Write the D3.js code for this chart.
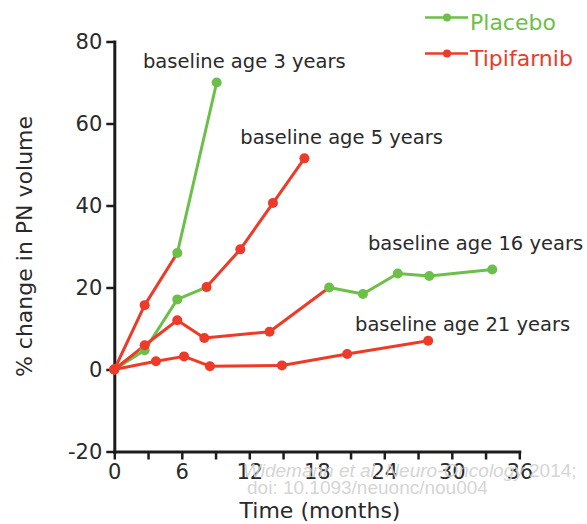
<!DOCTYPE html>
<html>
<head>
<meta charset="utf-8">
<script src="https://cdn.jsdelivr.net/npm/d3@7"></script>
<style>
  body { margin: 0; background: #fff; }
  text { font-family: "DejaVu Sans", sans-serif; }
  text.wm { font-family: "Liberation Sans", Arial, sans-serif; }
</style>
</head>
<body>
<div id="chart"></div>
<script>
// data (months, % change, arm of each visit: P = placebo, T = tipifarnib)
var months3  = [0, 2.7, 5.6, 9.1];
var values3  = [0, 15.7, 28.4, 70.0];
var arms3    = ["T", "T", "P", "P"];

var months5  = [0, 2.7, 5.6, 8.2, 11.2, 14.1, 16.9];
var values5  = [0, 4.7, 17.1, 20.1, 29.3, 40.6, 51.5];
var arms5    = ["P", "P", "P", "T", "T", "T", "T"];

var months16 = [0, 2.7, 5.6, 8.0, 13.8, 19.1, 22.1, 25.2, 28.0, 33.6];
var values16 = [0, 5.9, 12.0, 7.7, 9.2, 20.0, 18.4, 23.4, 22.8, 24.4];
var arms16   = ["T", "T", "T", "T", "T", "P", "P", "P", "P", "P"];

var months21 = [0, 3.7, 6.2, 8.5, 14.9, 20.7, 27.9];
var values21 = [0, 2.0, 3.2, 0.8, 1.0, 3.8, 7.0];
var arms21   = ["T", "T", "T", "T", "T", "T", "T"];

var seriesLabels = ["baseline age 5 years", "baseline age 3 years", "baseline age 16 years", "baseline age 21 years"];
// where each label sits, in data units (months, %)
var labelMonths = [11.2, 2.55, 22.55, 21.4];
var labelValues = [55.0, 73.5, 29.1, 9.3];

var legendNames = ["Placebo", "Tipifarnib"];
var legendArms = ["P", "T"];

var yTicks = [-20, 0, 20, 40, 60, 80];
var xTicks = [0, 3, 6, 9, 12, 15, 18, 21, 24, 27, 30, 33, 36];

var w = 587, h = 524;
var armColor = { P: "#6cbf48", T: "#ee3a28" };
var ink = "#1c1c1c";

var series = [
  { m: months5, v: values5, a: arms5 },
  { m: months3, v: values3, a: arms3 },
  { m: months16, v: values16, a: arms16 },
  { m: months21, v: values21, a: arms21 }
];

var x = d3.scaleLinear().domain([0, 36]).range([114.3, 519.3]);
var y = d3.scaleLinear().domain([-20, 80]).range([451.5, 41.5]);

var svg = d3.select("#chart").append("svg")
  .attr("width", w)
  .attr("height", h);

// axes
var yAxis = svg.append("g")
  .attr("transform", "translate(" + x(0) + ",0)")
  .call(d3.axisLeft(y).tickValues(yTicks).tickSize(8).tickSizeOuter(0).tickPadding(4)
    .tickFormat(function(d) { return String(d); }));

var xAxis = svg.append("g")
  .attr("transform", "translate(0," + y(-20) + ")")
  .call(d3.axisBottom(x).tickValues(xTicks).tickSize(8).tickSizeOuter(0).tickPadding(5)
    .tickFormat(function(d) { return d % 6 == 0 ? String(d) : ""; }));

[yAxis, xAxis].forEach(function(g) {
  g.select(".domain").attr("stroke", ink).attr("stroke-width", 3).attr("stroke-linecap", "square");
  g.selectAll(".tick line").attr("stroke", ink).attr("stroke-width", 2.5);
  g.selectAll(".tick text")
    .attr("fill", "#2a2a2a")
    .style("font-size", "21px")
    .style("font-family", "DejaVu Sans, sans-serif");
});

svg.append("text")
  .attr("transform", "translate(32," + y(30) + ")rotate(-90)")
  .attr("text-anchor", "middle")
  .attr("fill", "#2a2a2a")
  .style("font-size", "22px")
  .text("% change in PN volume");

svg.append("text")
  .attr("x", 320)
  .attr("y", 518)
  .attr("text-anchor", "middle")
  .attr("fill", "#2a2a2a")
  .style("font-size", "22px")
  .text("Time (months)");

// lines: each segment takes the colour of the visit it starts from
var lines = svg.append("g");
series.forEach(function(s) {
  for (var i = 1; i < s.m.length; i++) {
    lines.append("line")
      .attr("x1", x(s.m[i - 1])).attr("y1", y(s.v[i - 1]))
      .attr("x2", x(s.m[i])).attr("y2", y(s.v[i]))
      .attr("stroke", armColor[s.a[i - 1]])
      .attr("stroke-width", 3)
      .attr("stroke-linecap", "round");
  }
});

var dots = svg.append("g");
series.forEach(function(s) {
  dots.selectAll(null)
    .data(s.m)
    .enter()
    .append("circle")
    .attr("cx", function(d) { return x(d); })
    .attr("cy", function(d, i) { return y(s.v[i]); })
    .attr("r", 5)
    .attr("fill", function(d, i) { return armColor[s.a[i]]; });
});

// series labels
svg.append("g").selectAll("text")
  .data(seriesLabels)
  .enter()
  .append("text")
  .attr("x", function(d, i) { return x(labelMonths[i]); })
  .attr("y", function(d, i) { return y(labelValues[i]); })
  .attr("fill", "#2a2a2a")
  .style("font-size", "19.5px")
  .text(function(d) { return d; });

// legend
var legend = svg.append("g").selectAll("g")
  .data(legendNames)
  .enter()
  .append("g")
  .attr("transform", function(d, i) { return "translate(0," + (i * 36) + ")"; });

legend.append("line")
  .attr("x1", 425).attr("x2", 468)
  .attr("y1", 17.5).attr("y2", 17.5)
  .attr("stroke", function(d, i) { return armColor[legendArms[i]]; })
  .attr("stroke-width", 2.5);
legend.append("circle")
  .attr("cx", 447).attr("cy", 17.5).attr("r", 4)
  .attr("fill", function(d, i) { return armColor[legendArms[i]]; });
legend.append("text")
  .attr("x", 470).attr("y", 30)
  .attr("fill", function(d, i) { return armColor[legendArms[i]]; })
  .style("font-size", "22px")
  .text(function(d) { return d; });

// source watermark
var wm = svg.append("g")
  .attr("fill", "#cfcfcf")
  .attr("fill-opacity", 0.9);
var wm1 = wm.append("text").attr("class", "wm").attr("x", 243).attr("y", 477).style("font-size", "19px");
wm1.append("tspan").style("font-style", "italic").text("Widemann et al. Neuro-Oncology");
wm1.append("tspan").text(" 2014;");
wm.append("text").attr("class", "wm").attr("x", 247).attr("y", 494).style("font-size", "19px")
  .text("doi: 10.1093/neuonc/nou004");
</script>
</body>
</html>
